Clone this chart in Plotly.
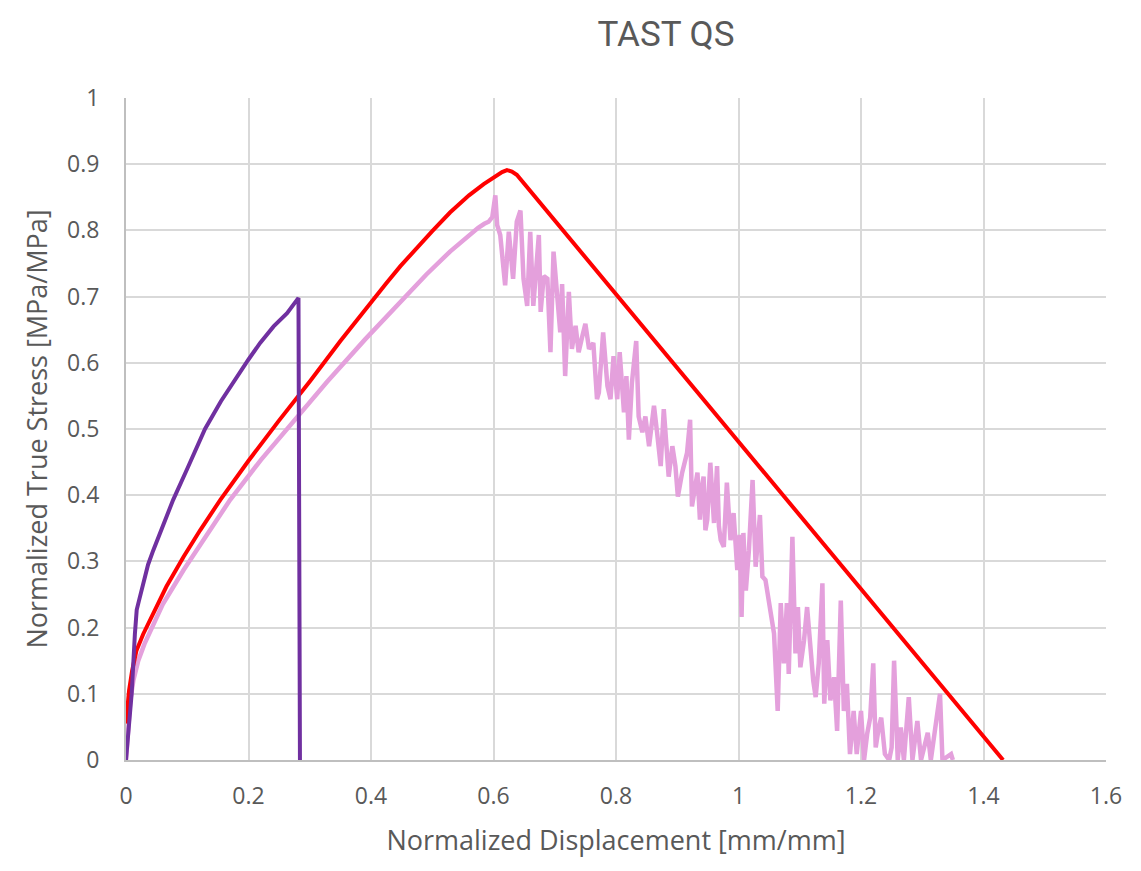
import plotly.graph_objects as go

# ---- data ----
purple_x = [0.0, 0.004, 0.0093, 0.0145, 0.0175, 0.021, 0.028, 0.036, 0.0446, 0.06, 0.077,
            0.1, 0.129, 0.155, 0.181, 0.2, 0.219, 0.241, 0.263, 0.2816, 0.284]
purple_y = [0.0, 0.04, 0.101, 0.19, 0.227, 0.24, 0.267, 0.295, 0.317, 0.355, 0.393,
            0.44, 0.5, 0.542, 0.579, 0.605, 0.63, 0.655, 0.675, 0.698, 0.0]

red_x = [0.0, 0.002, 0.005, 0.01, 0.017, 0.028, 0.039, 0.066, 0.094, 0.121, 0.154, 0.2,
         0.25, 0.283, 0.301, 0.35, 0.4, 0.425, 0.448, 0.475, 0.5, 0.529, 0.56, 0.584,
         0.606, 0.614, 0.622, 0.630, 0.638, 1.432]
red_y = [0.055, 0.08, 0.105, 0.135, 0.165, 0.19, 0.211, 0.262, 0.307, 0.347, 0.393, 0.452,
         0.513, 0.551, 0.573, 0.633, 0.692, 0.72, 0.746, 0.774, 0.799, 0.827, 0.853, 0.870,
         0.884, 0.888, 0.891, 0.889, 0.884, 0.0]

pink_x = [0.0, 0.003, 0.007, 0.012, 0.02, 0.03, 0.039, 0.06, 0.094, 0.137, 0.17, 0.22,
          0.28, 0.328, 0.39, 0.448, 0.49, 0.529, 0.562, 0.575, 0.585, 0.592, 0.598,
          0.603, 0.606, 0.611, 0.619, 0.625, 0.632, 0.638, 0.644, 0.649, 0.655, 0.660,
          0.665, 0.674, 0.677, 0.682, 0.688, 0.693, 0.698, 0.704, 0.709, 0.712, 0.717,
          0.723, 0.728, 0.734, 0.739, 0.745, 0.750, 0.756, 0.763, 0.769, 0.772, 0.779,
          0.786, 0.791, 0.796, 0.802, 0.806, 0.813, 0.817, 0.821, 0.826, 0.833, 0.837,
          0.843, 0.848, 0.854, 0.862, 0.867, 0.873, 0.878, 0.886, 0.892, 0.897, 0.901,
          0.908, 0.916, 0.921, 0.924, 0.933, 0.937, 0.940, 0.943, 0.946, 0.949, 0.954,
          0.960, 0.965, 0.968, 0.971, 0.976, 0.981, 0.987, 0.992, 0.998, 1.002, 1.005,
          1.008, 1.012, 1.017, 1.023, 1.028, 1.035, 1.039, 1.044, 1.048, 1.052, 1.058,
          1.064, 1.069, 1.074, 1.079, 1.082, 1.088, 1.093, 1.097, 1.101, 1.107, 1.112,
          1.118, 1.122, 1.126, 1.131, 1.137, 1.140, 1.145, 1.150, 1.156, 1.161, 1.167,
          1.172, 1.177, 1.182, 1.188, 1.193, 1.200, 1.205, 1.210, 1.215, 1.220, 1.224,
          1.229, 1.233, 1.239, 1.246, 1.250, 1.254, 1.260, 1.265, 1.270, 1.278, 1.284,
          1.292, 1.298, 1.309, 1.314, 1.329, 1.333, 1.347, 1.350]
pink_y = [0.0, 0.05, 0.09, 0.12, 0.15, 0.175, 0.192, 0.235, 0.287, 0.348, 0.393, 0.453,
          0.519, 0.571, 0.635, 0.693, 0.733, 0.768, 0.795, 0.804, 0.81, 0.813, 0.82,
          0.853, 0.808, 0.793, 0.717, 0.798, 0.727, 0.813, 0.830, 0.727, 0.686, 0.798,
          0.686, 0.793, 0.677, 0.731, 0.727, 0.616, 0.768, 0.707, 0.646, 0.719, 0.580,
          0.707, 0.621, 0.656, 0.616, 0.64, 0.659, 0.621, 0.63, 0.545, 0.555, 0.646,
          0.565, 0.545, 0.610, 0.545, 0.616, 0.525, 0.580, 0.484, 0.570, 0.633, 0.519,
          0.495, 0.519, 0.474, 0.535, 0.495, 0.444, 0.530, 0.428, 0.474, 0.444, 0.398,
          0.434, 0.464, 0.514, 0.383, 0.434, 0.363, 0.41, 0.428, 0.347, 0.363, 0.449,
          0.358, 0.444, 0.353, 0.332, 0.322, 0.419, 0.332, 0.373, 0.287, 0.34, 0.216,
          0.343, 0.256, 0.317, 0.423, 0.292, 0.370, 0.277, 0.272, 0.25, 0.231, 0.191,
          0.074, 0.237, 0.146, 0.237, 0.130, 0.337, 0.161, 0.231, 0.140, 0.181, 0.231,
          0.161, 0.12, 0.095, 0.146, 0.267, 0.085, 0.181, 0.090, 0.125, 0.044, 0.241,
          0.074, 0.115, 0.009, 0.074, 0.009, 0.074, 0.0, 0.039, 0.064, 0.146, 0.019,
          0.049, 0.064, 0.009, 0.0, 0.019, 0.150, 0.0, 0.049, 0.0, 0.095, 0.0,
          0.059, 0.0, 0.041, 0.0, 0.100, 0.0, 0.009, 0.0]

x_ticks = [0, 0.2, 0.4, 0.6, 0.8, 1, 1.2, 1.4, 1.6]
x_tick_text = ["0", "0.2", "0.4", "0.6", "0.8", "1", "1.2", "1.4", "1.6"]
y_ticks = [0, 0.1, 0.2, 0.3, 0.4, 0.5, 0.6, 0.7, 0.8, 0.9, 1]
y_tick_text = ["0", "0.1", "0.2", "0.3", "0.4", "0.5", "0.6", "0.7", "0.8", "0.9", "1"]

fig = go.Figure()
fig.add_trace(go.Scatter(x=pink_x, y=pink_y, mode="lines",
                         line=dict(color="#E4A0DC", width=4.5), name="pink"))
fig.add_trace(go.Scatter(x=red_x, y=red_y, mode="lines",
                         line=dict(color="#FF0000", width=4), name="red"))
fig.add_trace(go.Scatter(x=purple_x, y=purple_y, mode="lines",
                         line=dict(color="#7030A0", width=4), name="purple"))

tick_font = dict(family="Open Sans", size=23, color="#595959")
title_font = dict(family="Open Sans", size=27, color="#595959")

fig.update_layout(
    width=1141, height=871,
    margin=dict(l=118, r=43, t=90, b=119),
    paper_bgcolor="white", plot_bgcolor="white",
    showlegend=False,
    title=dict(text="TAST QS", x=658 / 1141, xanchor="center", xref="container",
               y=1 - 26 / 871, yanchor="middle", yref="container",
               font=dict(family="Roboto", size=35, color="#595959")),
    xaxis=dict(range=[0, 1.6], tickvals=x_ticks, ticktext=x_tick_text,
               showgrid=True, gridcolor="#D9D9D9", gridwidth=2,
               showline=True, linecolor="#BFBFBF", linewidth=2,
               zeroline=False, ticks="", tickfont=tick_font, ticklabelstandoff=14,
               title=dict(text="Normalized Displacement [mm/mm]", font=title_font, standoff=22)),
    yaxis=dict(range=[0, 1], tickvals=y_ticks, ticktext=y_tick_text,
               showgrid=True, gridcolor="#D9D9D9", gridwidth=2,
               showline=True, linecolor="#BFBFBF", linewidth=2,
               zeroline=False, ticks="", tickfont=tick_font, ticklabelstandoff=20,
               title=dict(text="Normalized True Stress [MPa/MPa]", font=title_font, standoff=12)),
)

fig.write_html("out.html")
